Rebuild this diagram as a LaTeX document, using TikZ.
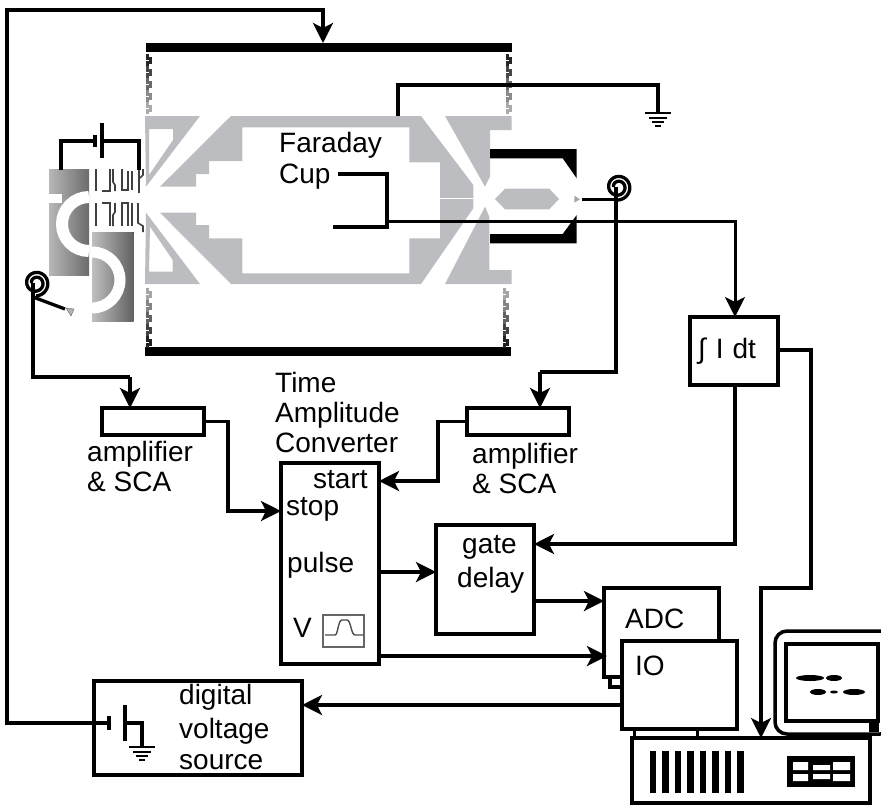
\documentclass[tikz,border=0pt]{standalone}
\usepackage{xcolor}
\usepackage{amsmath}
\usepackage{fontspec}
\setmainfont{Liberation Sans}
\usetikzlibrary{calc,positioning,arrows.meta}
\definecolor{lensgrey}{HTML}{BCBDC0}

\tikzset{
  wire/.style={line width=3.3pt, line join=miter},
  arrowwire/.style={wire, -{Stealth[length=20pt, width=20pt, inset=5pt]}},
  box/.style={draw, line width=3.3pt, inner sep=0pt, outer sep=0pt, anchor=north west},
  plate/.style={fill=black, inner sep=0pt, outer sep=0pt, minimum height=9pt, anchor=north west},
  label/.style={anchor=base west, inner sep=0pt, font=\fontsize{28}{30}\selectfont},
  lensline/.style={line width=1.6pt, black!75},
}

\begin{document}
\begin{tikzpicture}[x=1pt, y=-1pt]
\useasboundingbox (0,0) rectangle (881,804);

%Deflector
\fill[left color=black!28, right color=black!58] (49,169) rectangle (89,275);
\fill[left color=black!25, right color=black!62] (92,232) rectangle (133.5,321);
\fill[white] (49,194) rectangle (62,203);
\draw[white, line width=12pt] (89,197) arc (-90:-270:27);
\draw[white, line width=11pt] (92,252) arc (-90:90:28);

%Lens stack
\draw[lensline] (96,169) -- (96,191);
\draw[lensline] (102,191) -- (110,191) -- (110,169);
\draw[lensline] (113,169) -- (113,182) -- (115,185) -- (115,191);
\draw[lensline] (122,169) -- (122,190) -- (128,190) -- (128,171);
\draw[lensline] (132,171) -- (132,190);
\draw[lensline] (139,169) -- (139,193);
\draw[lensline] (143,169) -- (143,175) -- (140,178);
\draw[lensline] (96,203) -- (96,226);
\draw[lensline] (102,203) -- (110,203) -- (110,226);
\draw[lensline] (115,203) -- (115,212) -- (113,215) -- (113,226);
\draw[lensline] (122,226) -- (122,203) -- (128,203) -- (128,226);
\draw[lensline] (132,203) -- (132,226);
\draw[lensline] (138,203) -- (138,223) -- (143,226) -- (143,232);

%Battery
\coordinate (BatA) at (95,141);
\coordinate (BatB) at (102,141);
\draw[wire] (61,170) -- (61,141) -- (BatA);
\draw[wire] (BatB) -- (139,141) -- (139,170);
\draw[wire] (BatA) ++(0,-6) -- ++(0,12);
\draw[wire] (BatB) ++(0,-18) -- ++(0,35);

%Electrodes
\fill[lensgrey] (231,116) -- (421,116) -- (473.3,185) -- (473.3,208.3) -- (421,284) -- (231,284)
  -- (160,212.7) -- (196,212.7) -- (196,225) -- (209,225) -- (209,238.3) -- (242.3,238.3)
  -- (242.3,273.3) -- (409.3,273.3) -- (409.3,238.3) -- (440,238.3) -- (440,162.3)
  -- (409.3,162.3) -- (409.3,127.3) -- (242.3,127.3) -- (242.3,161) -- (209,161)
  -- (209,174) -- (196,174) -- (196,186.7) -- (160,186.7) -- cycle;
\draw[white, thin] (440,198) -- (473.3,198);
\fill[lensgrey, even odd rule] (145,116) -- (200,116) -- (146,186.7) -- cycle
  (149,129) -- (173,129) -- (173,140) -- (149,175) -- cycle;
\fill[lensgrey, even odd rule] (145,284) -- (200,284) -- (146,212.7) -- cycle
  (149,271.7) -- (172.7,271.7) -- (172.7,260) -- (150,226.7) -- cycle;
\fill[lensgrey] (445,116) -- (511.7,116) -- (511.7,130) -- (490,130) -- (490,176.7) -- (485,186.7) -- cycle;
\fill[lensgrey] (445,284) -- (511.7,284) -- (511.7,270) -- (489.3,270) -- (489.3,216.7) -- (485,206.7) -- cycle;

%Detector end
\fill[black] (490,149) -- (576.7,149) -- (576.7,178.3) -- (562.7,158.3) -- (490,158.3) -- cycle;
\fill[black] (490,243.3) -- (576.7,243.3) -- (576.7,215) -- (562.7,234) -- (490,234) -- cycle;
\fill[lensgrey] (495,199) -- (505,188.7) -- (549.3,188.7) -- (559,199) -- (549.3,209.3) -- (505,209.3) -- cycle;
\fill[black!35] (574.3,195.7) -- (574.3,202.7) -- (580,199.3) -- cycle;
\draw[black!60, fill=black!30, thin] (66,308) -- (74,309) -- (71,316) -- cycle;

%Chamber plates
\node[plate, minimum width=366pt] (TopPlate) at (146,43) {};
\node[plate, minimum width=366pt] (BotPlate) at (145,347) {};

%Bellows
\foreach \bx/\by/\dk in {147/54/1, 507/54/1, 147/288/0, 504/288/0}{
  \foreach \st in {0,...,4}{
    \pgfmathsetmacro{\shade}{\dk==1 ? 85-13*\st : 35+13*\st}
    \draw[line width=3pt, black!\shade]
      ($(\bx,\by)+(0,12*\st)$) -- ++(0,4) -- ++(3.5,0) -- ++(0,4) -- ++(-3.5,0) -- ++(0,4);
  }
}

%Spirals
\foreach \sx/\sy in {36/283, 618/187}{
  \draw[wire] plot[smooth, domain=-180:450, samples=50] ({\sx+(4.5+8.5*(\x+180)/630)*cos(\x)}, {\sy+(4.5+8.5*(\x+180)/630)*sin(\x)});
}

%Boxes
\node[box, minimum width=102pt, minimum height=27pt] (AmpL) at (102,408) {};
\node[box, minimum width=102pt, minimum height=27pt] (AmpR) at (467,408) {};
\node[box, minimum width=88pt, minimum height=68pt] (Integ) at (690,317) {};
\node[box, minimum width=98pt, minimum height=201pt] (TAC) at (281,463) {};
\node[box, minimum width=98pt, minimum height=109pt] (Gate) at (436,525) {};
\node[box, minimum width=115pt, minimum height=89pt] (ADC) at (604,588) {};
\node[box, minimum width=12pt, minimum height=10pt] (Tab) at (610,677) {};
\node[box, fill=white, minimum width=115pt, minimum height=88pt] (IO) at (622,641) {};
\node[box, minimum width=208pt, minimum height=94pt] (DVS) at (94,681) {};
\node[box, line width=1.4pt, draw=black!60, minimum width=41pt, minimum height=32pt] (Scope) at (323,615) {};
\draw[line width=1.4pt, black!70] (325,635) -- (335,635) .. controls (338,635) and (338,620) .. (342,620)
  -- (347,620) .. controls (351,620) and (351,635) .. (355,635) -- (363,635);

%Computer
\draw[line width=3pt] (634,729) -- (634,738) (697,729) -- (697,738);
\draw[line width=3.5pt, rounded corners=12pt] (775,631) rectangle (892,734);
\draw[line width=3.5pt] (786,644) rectangle (878,721);
\fill[black] (869,723) rectangle (879,732);
\foreach \ex/\ey/\erx/\ery in {810/678/14/3, 834/678/8/3, 818/692/8/3, 834/692/4/1.5, 854/692/11/3}{
  \fill[black] (\ex,\ey) ellipse ({\erx} and {\ery});
}
\node[box, fill=white, line width=4.5pt, minimum width=238pt, minimum height=65pt] (PC) at (632,738) {};
\foreach \bx in {652.7,665.3,678,690.3,703,715.3,728,740.3}{
  \fill[black] (\bx-3.2,750.7) rectangle (\bx+3.2,792.7);
}
\fill[black] (787,756) rectangle (855,787);
\fill[white] (793,762) rectangle (808,770) (813,765) rectangle (830,770) (833,762) rectangle (850,770)
  (793,774) rectangle (808,781) (813,774) rectangle (830,779) (833,774) rectangle (850,781);

%Aux
\coordinate (SpiralL) at (33,283);
\coordinate (SpiralR) at (616,187);
\coordinate (SensL) at (65,309);
\coordinate (SensR) at (582,199.3);
\coordinate (SrcPlate) at (109,723);
\coordinate (SrcRet) at (125,723);
\coordinate (CupEnd) at (333,227);
\coordinate (CupOut) at (388,221);
\coordinate (GndLens) at (398,116);
\coordinate (GndTop) at (658,113);
\coordinate (GndSrc) at (142,747);

%Connectors
\draw[arrowwire] (SrcPlate) -- (7,723) -- (7,10) -- (323,10) -- (TopPlate.north -| 323,0);
\draw[wire] (SrcPlate) ++(0,-7) -- ++(0,14);
\draw[wire] (SrcRet) ++(0,-18) -- ++(0,36);
\draw[wire] (SrcRet) -- (142,723) -- (GndSrc);
\draw[wire] (GndLens) -- (398,85) -- (658,85) -- (GndTop);
\foreach \gx/\gy in {658/113, 142/747}{
  \draw[line width=2pt] (\gx-13,\gy) -- (\gx+13,\gy) (\gx-9,\gy+5) -- (\gx+9,\gy+5)
    (\gx-6,\gy+9) -- (\gx+6,\gy+9) (\gx-3,\gy+13) -- (\gx+3,\gy+13);
}
\draw[wire] (338,174) -- (387,174) -- (387,227) -- (CupEnd);
\draw[arrowwire, line width=3pt] (CupOut) -- (735,221) -- (Integ.north -| 735,0);
\draw[wire] (SpiralL) -- (33,377) -- (130,377);
\draw[arrowwire] (130,377) -- (AmpL.north -| 130,0);
\draw[wire] (33,297) -- (SensL);
\draw[wire] (SensR) -- (617,199.3);
\draw[wire] (SpiralR) -- (616,372) -- (540,372);
\draw[arrowwire] (540,372) -- (AmpR.north -| 540,0);
\draw[arrowwire] (AmpL.east) -- (228,421.5) -- (228,511) -- (TAC.west |- 0,511);
\draw[arrowwire] (AmpR.west) -- (438,421.5) -- (438,481) -- (TAC.east |- 0,481);
\draw[arrowwire] (381,572) -- (Gate.west |- 0,572);
\draw[arrowwire] (Integ.south -| 735,0) -- (735,544) -- (Gate.east |- 0,544);
\draw[arrowwire] (Gate.east |- 0,601) -- (ADC.west |- 0,601);
\draw[arrowwire] (TAC.east |- 0,656) -- (607,656);
\draw[arrowwire] (IO.west |- 0,705) -- (DVS.east |- 0,705);
\draw[arrowwire] (Integ.east |- 0,350) -- (811,350) -- (811,588) -- (761,588) -- (PC.north -| 761,0);

%Labels
\node[label] (LblFaraday) at (279,152) {Faraday};
\node[label] (LblCup) at (279,183) {Cup};
\node[label] (LblTime) at (275,392) {Time};
\node[label] (LblAmplitude) at (275,422) {Amplitude};
\node[label] (LblConverter) at (275,452) {Converter};
\node[label] (LblAmpL) at (87,461) {amplifier};
\node[label] (LblScaL) at (87,491) {\& SCA};
\node[label] (LblAmpR) at (472,463) {amplifier};
\node[label] (LblScaR) at (472,493) {\& SCA};
\node[label] (LblStart) at (313,488) {start};
\node[label] (LblStop) at (286,515) {stop};
\node[label] (LblPulse) at (287,572) {pulse};
\node[label] (LblV) at (293,637) {V};
\node[label] (LblGate) at (462,553) {gate};
\node[label] (LblDelay) at (457,587) {delay};
\node[label] (LblADC) at (625,628) {ADC};
\node[label] (LblIO) at (635,675) {IO};
\node[label] (LblDigital) at (179,704) {digital};
\node[label] (LblVoltage) at (179,738) {voltage};
\node[label] (LblSource) at (179,769) {source};
\node[label] (LblInt) at (698,358) {∫\hspace{10pt}I\hspace{9pt}dt};

\end{tikzpicture}
\end{document}
